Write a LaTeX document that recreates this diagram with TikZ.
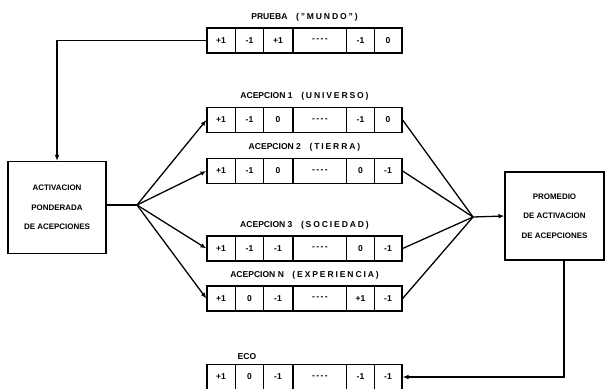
\documentclass[tikz,border=0pt]{standalone}
\usepackage{fontspec}
\setsansfont{Liberation Sans}
\usetikzlibrary{positioning,arrows.meta,calc}

\newcommand{\spaced}[1]{{\addfontfeature{LetterSpace=22}#1}}
\newcommand{\vect}[7]{%
  \node[vecbox] (#1) at (304.5,#2) {};
  \foreach \xd in {235.5,263.5,293,346.5,374.5}
    \draw[cellline] (\xd,#2-12.5) -- (\xd,#2+12.5);
  \foreach \xc/\val [count=\i] in {221/{#3},249.5/{#4},278/{#5},320/{-\,-\,-\,-},360.5/{#6},388/{#7}}
    \node[cellval] (#1-\i) at (\xc,#2) {\val};
}

\begin{document}
\begin{tikzpicture}[x=0.03cm, y=-0.03cm,
  txt/.style={font=\sffamily\bfseries\fontsize{7.3}{8}\selectfont, inner sep=1pt},
  vecbox/.style={draw, line width=1.1pt, minimum width=5.85cm, minimum height=0.75cm, inner sep=0pt},
  cellline/.style={line width=1.1pt},
  cellval/.style={txt},
  procbox/.style={draw, line width=1.1pt, align=center, font=\sffamily\bfseries\fontsize{6.8}{16.5}\selectfont},
  conn/.style={line width=1.1pt},
  arr/.style={conn, -{Latex[length=5pt,width=4pt]}}]
  \useasboundingbox (0,0) rectangle (607,389);
  % Vectors (name, y, values)
  \vect{prueba}{40.5}{+1}{-1}{+1}{-1}{0}
  \vect{acep1}{120}{+1}{-1}{0}{-1}{0}
  \vect{acep2}{171}{+1}{-1}{0}{0}{-1}
  \vect{acep3}{248.5}{+1}{-1}{-1}{0}{-1}
  \vect{acepN}{298.5}{+1}{0}{-1}{+1}{-1}
  \vect{eco}{377}{+1}{0}{-1}{-1}{-1}
  % Labels
  \node[txt, above=4pt of prueba] (lprueba) {PRUEBA\quad\spaced{("MUNDO")}};
  \node[txt, above=4pt of acep1] (lacep1) {ACEPCION 1\quad\spaced{(UNIVERSO)}};
  \node[txt, above=4pt of acep2] (lacep2) {ACEPCION 2\quad\spaced{(TIERRA)}};
  \node[txt, above=4pt of acep3] (lacep3) {ACEPCION 3\quad\spaced{(SOCIEDAD)}};
  \node[txt, above=4pt of acepN] (lacepN) {ACEPCION N\quad\spaced{(EXPERIENCIA)}};
  \node[txt] (leco) at (247,357) {ECO};
  % Boxes
  \node[procbox, minimum width=2.94cm, minimum height=2.76cm] (activ) at (57,207.5)
    {ACTIVACION\\PONDERADA\\DE ACEPCIONES};
  \node[procbox, minimum width=2.97cm, minimum height=2.64cm] (prom) at (554.5,216)
    {PROMEDIO\\DE ACTIVACION\\DE ACEPCIONES};
  \coordinate (fanL) at (137,205);
  \coordinate (fanR) at (473,217);
  % Connectors
  \draw[arr] (prueba.west) -| (activ.north);
  \draw[conn] (activ.east |- fanL) -- (fanL);
  \foreach \v in {acep1,acep2,acep3,acepN} {
    \draw[arr] (fanL) -- (\v.west);
    \draw[conn] (\v.east) -- (fanR);
  }
  \draw[arr] (fanR) -- (prom.west);
  \draw[arr] ($(prom.south)+(9.5,0)$) |- (eco.east);
\end{tikzpicture}
\end{document}
